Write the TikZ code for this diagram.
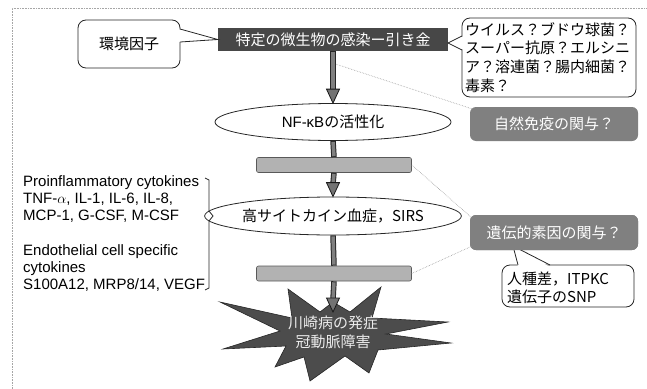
\documentclass[tikz,border=0pt]{standalone}
\usepackage{fontspec}
\setmainfont{Liberation Sans}
\newfontfamily\jp{Noto Sans CJK JP}
\usetikzlibrary{arrows.meta,shapes.geometric,calc}
\begin{document}
\begin{tikzpicture}[x=1pt,y=-1pt,
  every node/.style={inner sep=0pt, font=\fontsize{15pt}{17pt}\selectfont},
  callbox/.style={draw=black!85, line width=0.8pt, rounded corners=8pt, fill=white},
  darkbox/.style={fill=black!72, text=white},
  graybox/.style={fill=black!50, rounded corners=6pt, text=white},
  barbox/.style={fill=black!30, draw=black!65, rounded corners=2pt, line width=0.6pt},
  oval/.style={ellipse, draw=black!85, line width=0.8pt, fill=white},
  flowout/.style={draw=black!85, line width=5.5pt},
  flowin/.style={draw=black!50, line width=3.5pt},
  head/.style={fill=black!55, draw=black!90, line width=0.8pt, line join=miter},
  hint/.style={draw=black!40, line width=0.6pt, densely dotted},
  ptr/.style={draw=black!85, line width=0.8pt}
]
\useasboundingbox (0,0) rectangle (647,388);
% frame
\draw[black!35, densely dotted, line width=0.6pt] (12,400) -- (12,8) -- (660,8);

% trigger box
\node[darkbox, minimum width=230pt, minimum height=23pt] (trig) at (333,39.5) {\jp 特定の微生物の感染ー引き金};

% environment callout
\node[callbox, minimum width=102pt, minimum height=48pt] (env) at (129,44) {\jp 環境因子};
\coordinate (envA) at (180,29);
\coordinate (envB) at (180,42);
\coordinate (envT) at (trig.west);
\fill[white] ([xshift=-2pt]envA) -- (envT) -- ([xshift=-2pt]envB) -- cycle;
\draw[ptr] (envA) -- (envT) -- (envB);

% microbes callout
\node[callbox, minimum width=174pt, minimum height=79pt] (mic) at (549,57.5) {};
\node[anchor=west, align=left, font=\fontsize{15pt}{18.7pt}\selectfont\jp] (mictext) at (465,57.5) {ウイルス？ブドウ球菌？\\スーパー抗原？エルシニ\\ア？溶連菌？腸内細菌？\\毒素？};
\coordinate (micA) at (462,36);
\coordinate (micB) at (462,50);
\coordinate (micT) at (448,43);
\fill[white] ([xshift=2pt]micA) -- (micT) -- ([xshift=2pt]micB) -- cycle;
\draw[ptr] (micA) -- (micT) -- (micB);

% NF-kB
\node[oval, minimum width=236pt, minimum height=37pt] (nfkb) at (333,122) {NF-κB{\jp の活性化}};

% innate box
\node[graybox, minimum width=168pt, minimum height=34pt] (innate) at (554,124) {\jp 自然免疫の関与？};

% bar 1
\node[barbox, minimum width=155pt, minimum height=15pt] (bar1) at (334,165) {};

% cytokinemia ellipse
\node[oval, minimum width=240pt, minimum height=38pt] (cyto) at (333,216) {\jp 高サイトカイン血症，SIRS};

% genetic box
\node[graybox, minimum width=168pt, minimum height=35pt] (gene) at (554,232.5) {\jp 遺伝的素因の関与？};

% bar 2
\node[barbox, minimum width=155pt, minimum height=15pt] (bar2) at (334,273.5) {};

% race callout
\coordinate (raceA) at (518,265);
\coordinate (raceB) at (550,265);
\coordinate (raceT) at (513,246);
\node[callbox, minimum width=132pt, minimum height=42pt] (race) at (568,286) {};
\node[anchor=west, align=left, font=\fontsize{15pt}{17.5pt}\selectfont\jp] (racetext) at (507,288) {人種差，ITPKC\\遺伝子のSNP};
\fill[white] ([yshift=-2pt]raceA) -- (raceT) -- ([yshift=-2pt]raceB) -- cycle;
\draw[ptr] (raceA) -- (raceT) -- (raceB);
% redraw genetic box over the pointer tip
\node[graybox, minimum width=168pt, minimum height=35pt] at (gene) {\jp 遺伝的素因の関与？};

% star
\filldraw[fill=black!70, draw=black!85, line width=0.6pt]
  (220,302) -- (292,318) -- (288,289) -- (320,312) -- (333,302) -- (350,312)
  -- (381,287) -- (372,318) -- (448,322) -- (386,334) -- (451,343) -- (378,350)
  -- (369,373) -- (345,356) -- (310,381) -- (304,357) -- (275,367) -- (286,346)
  -- (223,349) -- (280,331) -- cycle;
\node[align=center, text=black!8, font=\fontsize{15pt}{19pt}\selectfont\jp] (kd) at (333,332) {川崎病の発症\\冠動脈障害};
\coordinate (starTop) at (333,312);

% flow connectors
\draw[flowout] (trig.south) -- ($(nfkb.north)+(0,-13)$);
\draw[flowin] ([yshift=-0.5pt]trig.south) -- ($(nfkb.north)+(0,-12)$);
\filldraw[head] (nfkb.north) -- ++(-6.5,-14) -- ++(13,0) -- cycle;

\draw[flowout] (nfkb.south) -- (bar1.north);
\draw[flowin] ([yshift=-1pt]nfkb.south) -- ([yshift=1pt]bar1.north);

\draw[flowout] (bar1.south) -- ($(cyto.north)+(0,-13)$);
\draw[flowin] ([yshift=-1pt]bar1.south) -- ($(cyto.north)+(0,-12)$);
\filldraw[head] (cyto.north) -- ++(-6.5,-14) -- ++(13,0) -- cycle;

\draw[flowout] (cyto.south) -- (bar2.north);
\draw[flowin] ([yshift=-1pt]cyto.south) -- ([yshift=1pt]bar2.north);

\draw[flowout] (bar2.south) -- ($(starTop)+(0,-13)$);
\draw[flowin] ([yshift=-1pt]bar2.south) -- ($(starTop)+(0,-12)$);
\filldraw[head] (starTop) -- ++(-6.5,-14) -- ++(13,0) -- cycle;

% hint lines
\coordinate (m1) at ($(trig.south)!0.25!(nfkb.north)+(3,0)$);
\draw[hint] (m1) -- ([xshift=2pt,yshift=-2pt]innate.north west);
\draw[hint] (bar1.east) -- ([xshift=2pt,yshift=-3pt]gene.north west);
\draw[hint] (bar2.east) -- ([xshift=2pt,yshift=4pt]gene.south west);

% left text
\node[anchor=north west, align=left] (pro) at (23,175) {Proinflammatory cytokines\\TNF-$\alpha$, IL-1, IL-6, IL-8,\\MCP-1, G-CSF, M-CSF};
\node[anchor=north west, align=left] (endo) at (23,244) {Endothelial cell specific\\cytokines\\S100A12, MRP8/14, VEGF};

% bracket
\draw[black!85, line width=0.8pt] (205,178) -- (209,180) -- (209,211) -- (213,216) -- (209,221) -- (209,288) -- (205,290);
\end{tikzpicture}
\end{document}
